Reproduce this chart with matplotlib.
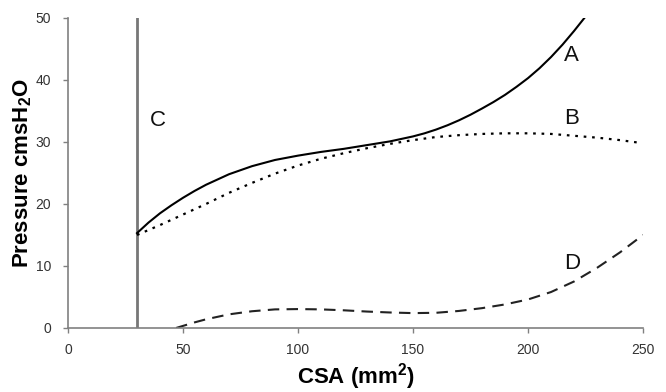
import numpy as np
import matplotlib
matplotlib.use("Agg")
from matplotlib import pyplot as plt

plt.rcParams['font.family'] = ['Liberation Sans', 'DejaVu Sans']
plt.rcParams['mathtext.fontset'] = 'custom'
plt.rcParams['mathtext.rm'] = 'Liberation Sans'
plt.rcParams['mathtext.bf'] = 'Liberation Sans:bold'

# curve A (solid)
a_x = [30, 35, 40, 45, 50, 55, 60, 70, 80, 90, 100, 110, 120, 130, 140, 150, 155, 160, 165, 170, 175, 180, 185,
       190, 195, 200, 205, 210, 215, 220, 224.5]
a_y = [15.3, 17.0, 18.5, 19.8, 21.0, 22.1, 23.1, 24.8, 26.1, 27.1, 27.8, 28.4, 28.9, 29.5, 30.1, 30.9, 31.4, 32.0,
       32.7, 33.5, 34.4, 35.4, 36.45, 37.6, 38.9, 40.3, 41.9, 43.7, 45.7, 47.9, 50.0]
# curve B (dotted)
b_x = [30, 40, 50, 60, 70, 80, 90, 100, 110, 120, 130, 140, 150, 160, 170, 180, 190, 200, 210, 220, 230, 240, 248]
b_y = [15.0, 16.6, 18.3, 20.0, 21.8, 23.4, 24.9, 26.2, 27.3, 28.2, 29.0, 29.7, 30.3, 30.8, 31.1, 31.3, 31.4, 31.4,
       31.3, 31.0, 30.7, 30.3, 29.9]
# curve D (dashed)
d_x = [47, 55, 60, 70, 80, 90, 100, 110, 120, 130, 140, 150, 160, 170, 180, 190, 200, 210, 220, 230, 240, 250]
d_y = [0.0, 0.9, 1.4, 2.2, 2.7, 3.0, 3.05, 3.0, 2.85, 2.65, 2.5, 2.4, 2.45, 2.75, 3.2, 3.8, 4.6, 5.8, 7.5, 9.7,
       12.2, 15.0]
# line C (vertical)
c_x = 30

labels = ["A", "B", "C", "D"]
label_x = [219, 219, 39, 219]
label_y = [44, 33.8, 33.5, 10.4]

fig = plt.figure(figsize=(6.66, 3.92), dpi=100)
ax = fig.add_axes([0.1021, 0.1633, 0.8634, 0.7908])

ax.axvline(c_x, ymin=0, ymax=1, color='#777777', lw=2)
ax.plot(a_x, a_y, color='black', lw=1.5)
ax.plot(b_x, b_y, color='black', lw=1.6, linestyle=(0, (1.2, 2.6)))
ax.plot(d_x, d_y, color='#222222', lw=1.5, linestyle=(0, (5.5, 3.5)))

for t, x, y in zip(labels, label_x, label_y):
    ax.text(x, y, t, fontsize=16, ha='center', va='center', color='#111111')

ax.set_xlim(0, 250)
ax.set_ylim(0, 50)
ax.set_xticks(np.arange(0, 251, 50))
ax.set_yticks(np.arange(0, 51, 10))
for s in ['top', 'right']:
    ax.spines[s].set_visible(False)
for s in ['left', 'bottom']:
    ax.spines[s].set_color('#808080')
    ax.spines[s].set_linewidth(1.2)
ax.tick_params(axis='both', colors='#808080', labelcolor='#333333', labelsize=10, length=3.6, width=1)
ax.tick_params(axis='x', pad=7.5)
ax.tick_params(axis='y', pad=8.5)

ax.set_xlabel(r'CSA (mm$^\mathbf{2}$)', fontsize=16, fontweight='bold', labelpad=3)
ax.set_ylabel(r'Pressure cmsH$_\mathbf{2}$O', fontsize=16, fontweight='bold', labelpad=1)

fig.savefig('out.png', dpi=100)
